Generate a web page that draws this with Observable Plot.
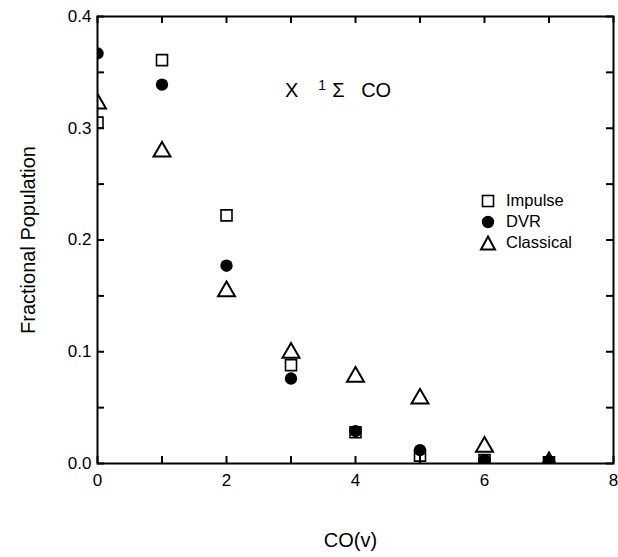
<!DOCTYPE html>
<html><head><meta charset="utf-8">
<script src="https://cdn.jsdelivr.net/npm/d3@7"></script>
<script src="https://cdn.jsdelivr.net/npm/@observablehq/plot@0.6"></script>
<style>
body{margin:0;background:#fff;}
#wrap{position:relative;width:618px;height:557px;font-family:"Liberation Sans",Arial,Helvetica,sans-serif;color:#000;}
#title{position:absolute;left:285px;top:79px;font-size:20px;white-space:nowrap;}
#title sup{font-size:14px;position:relative;top:-7px;vertical-align:baseline;margin-left:20px;margin-right:6px;}
#legend{position:absolute;left:479px;top:190px;font-size:16.5px;}
#legend div{display:flex;align-items:center;height:21px;}
#legend svg{width:18px;height:18px;margin-right:9px;}
</style>
</head><body><div id="wrap"></div>
<script>
const levels = [0, 1, 2, 3, 4, 5, 6, 7];
const impulse = [0.305, 0.361, 0.222, 0.088, 0.028, 0.007, 0.003, 0.001];
const dvr = [0.367, 0.339, 0.177, 0.076, 0.029, 0.012, 0.003, 0.002];
const classical = [0.322, 0.279, 0.154, 0.099, 0.0775, 0.058, 0.015, 0.001];
const seriesNames = ["Impulse", "DVR", "Classical"];
const xLabelTicks = [0, 2, 4, 6, 8];
const xMarkTicks = [0, 1, 2, 3, 4, 5, 6, 7, 8];
const yLabelTicks = [0, 0.1, 0.2, 0.3, 0.4];
const yMarkTicks = [0, 0.05, 0.1, 0.15, 0.2, 0.25, 0.3, 0.35, 0.4];
const xTitle = "CO(v)";
const yTitle = "Fractional Population";

const W = 618, H = 557, ML = 97, MR = 5, MT = 16, MB = 94;
const PW = W - ML - MR, PH = H - MT - MB, TL = 7;
const X0 = 0, X1 = 8, Y0 = 0, Y1 = 0.4;
const tx = TL / PW * (X1 - X0), ty = TL / PH * (Y1 - Y0);
const rows = (vals) => levels.map((v, i) => ({v, p: vals[i]}));

const chart = Plot.plot({
  width: W, height: H,
  marginLeft: ML, marginRight: MR, marginTop: MT, marginBottom: MB,
  style: {fontFamily: '"Liberation Sans", Arial, Helvetica, sans-serif', background: "#fff", color: "#000"},
  x: {domain: [X0, X1]},
  y: {domain: [Y0, Y1]},
  marks: [
    Plot.axisX(xLabelTicks, {anchor: "bottom", tickSize: 0, tickPadding: 10, fontSize: 17, label: null}),
    Plot.axisY(yLabelTicks, {anchor: "left", tickSize: 0, tickPadding: 6, fontSize: 17, tickFormat: d3.format(".1f"), label: null}),
    Plot.ruleX(xMarkTicks, {x: d => d, y1: Y0, y2: Y0 + ty, stroke: "#000", strokeWidth: 2}),
    Plot.ruleX(xMarkTicks, {x: d => d, y1: Y1, y2: Y1 - ty, stroke: "#000", strokeWidth: 2}),
    Plot.ruleY(yMarkTicks, {y: d => d, x1: X0, x2: X0 + tx, stroke: "#000", strokeWidth: 2}),
    Plot.ruleY(yMarkTicks, {y: d => d, x1: X1, x2: X1 - tx, stroke: "#000", strokeWidth: 2}),
    Plot.text([xTitle], {text: d => d, frameAnchor: "bottom", dy: 83, dx: -5, fontSize: 20}),
    Plot.text([yTitle], {text: d => d, frameAnchor: "left", textAnchor: "middle", dx: -69, rotate: -90, fontSize: 20}),
    Plot.dot(rows(impulse), {x: "v", y: "p", symbol: "square", r: 6.2, stroke: "#000", strokeWidth: 1.6, fill: "none", clip: true}),
    Plot.dot(rows(dvr), {x: "v", y: "p", symbol: "circle", r: 6.2, fill: "#000", stroke: "none", clip: true}),
    Plot.dot(rows(classical), {x: "v", y: "p", symbol: "triangle", r: 6.3, stroke: "#000", strokeWidth: 2, fill: "none", clip: true}),
    Plot.frame({stroke: "#000", strokeWidth: 2})
  ]
});

const wrap = document.getElementById("wrap");
wrap.appendChild(chart);

const title = document.createElement("div");
title.id = "title";
title.innerHTML = "X<sup>1</sup>Σ&nbsp;&nbsp;&nbsp;CO";
wrap.appendChild(title);

const icons = {
  Impulse: '<rect x="3.5" y="3.5" width="11" height="11" fill="none" stroke="#000" stroke-width="1.6"/>',
  DVR: '<circle cx="9" cy="9" r="6.2" fill="#000"/>',
  Classical: '<path d="M9 2.5 L16 15.5 L2 15.5 Z" fill="none" stroke="#000" stroke-width="2" stroke-linejoin="miter"/>'
};
const legend = document.createElement("div");
legend.id = "legend";
legend.innerHTML = seriesNames.map(n => `<div><svg viewBox="0 0 18 18">${icons[n]}</svg><span>${n}</span></div>`).join("");
wrap.appendChild(legend);
</script>
</body></html>
